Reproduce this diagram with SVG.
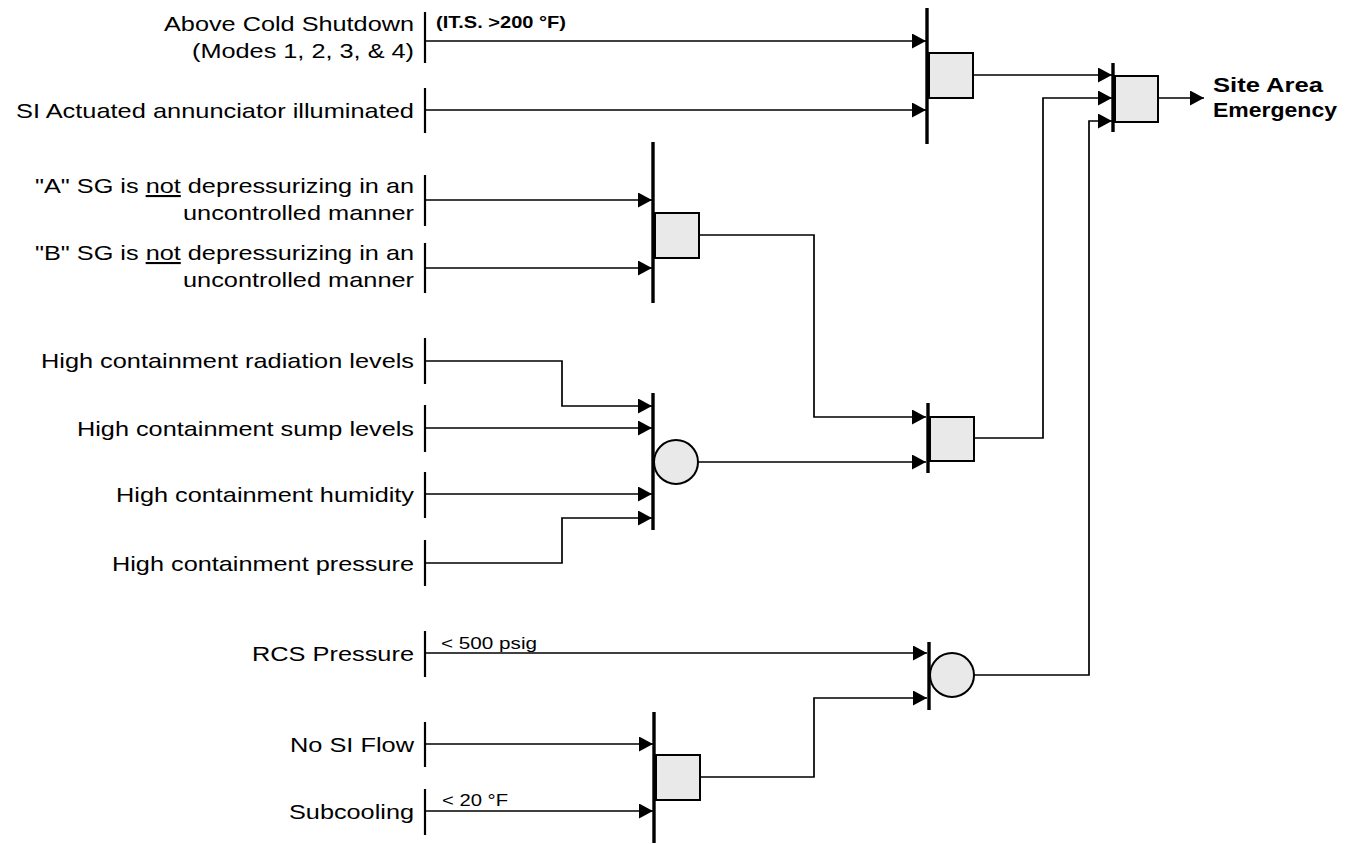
<svg xmlns="http://www.w3.org/2000/svg" width="1369" height="844" viewBox="0 0 1369 844">
<style>
.lbl{font-family:"Liberation Sans",Arial,sans-serif;font-size:21px;fill:#000;text-anchor:end}
.sm{font-family:"Liberation Sans",Arial,sans-serif;font-size:17px;fill:#000}
.smb{font-family:"Liberation Sans",Arial,sans-serif;font-size:17px;font-weight:bold;fill:#000}
.out{font-family:"Liberation Sans",Arial,sans-serif;font-size:21px;font-weight:bold;fill:#000}
.ibar{stroke:#000;stroke-width:2.2;fill:none}
.gbar{stroke:#000;stroke-width:3.4;fill:none}
.wire{stroke:#000;stroke-width:1.7;fill:none}
.arr{marker-end:url(#ah)}
.box{fill:#e9e9e9;stroke:#000;stroke-width:2}
</style>
<defs>
<marker id="ah" markerUnits="userSpaceOnUse" markerWidth="16" markerHeight="16" refX="14" refY="7.5" orient="auto">
<path d="M0,0 L14,7.5 L0,15 z" fill="#000"/>
</marker>
</defs>
<rect width="1369" height="844" fill="#fff"/>

<g id="connectors">
<path class="wire arr" d="M425,41 H926"/>
<path class="wire arr" d="M425,110 H926"/>
<path class="wire arr" d="M425,200 H652"/>
<path class="wire arr" d="M425,268 H652"/>
<path class="wire arr" d="M425,361 H562 V406 H652"/>
<path class="wire arr" d="M425,428 H652"/>
<path class="wire arr" d="M425,494 H652"/>
<path class="wire arr" d="M425,563 H562 V518 H652"/>
<path class="wire arr" d="M425,653 H927"/>
<path class="wire arr" d="M425,744 H653"/>
<path class="wire arr" d="M425,811 H653"/>
<path class="wire arr" d="M973,75 H1112"/>
<path class="wire arr" d="M699,235 H814 V417 H926"/>
<path class="wire arr" d="M698,462 H926"/>
<path class="wire arr" d="M973,438 H1043 V98 H1112"/>
<path class="wire arr" d="M700,777 H814 V698 H927"/>
<path class="wire arr" d="M974,675 H1089 V121 H1112"/>
<path class="wire arr" d="M1158,98 H1204"/>
</g>

<g id="in-above-cold">
<line class="ibar" x1="425" y1="12" x2="425" y2="63"/>
<text class="lbl" x="414" y="31" textLength="250" lengthAdjust="spacingAndGlyphs">Above Cold Shutdown</text>
<text class="lbl" x="414" y="58" textLength="222" lengthAdjust="spacingAndGlyphs">(Modes 1, 2, 3, &amp; 4)</text>
<text class="smb" x="436" y="28" textLength="130" lengthAdjust="spacingAndGlyphs">(IT.S. &gt;200 °F)</text>
</g>
<g id="in-si-actuated">
<line class="ibar" x1="425" y1="88" x2="425" y2="133"/>
<text class="lbl" x="414" y="118" textLength="398" lengthAdjust="spacingAndGlyphs">SI Actuated annunciator illuminated</text>
</g>
<g id="in-a-sg">
<line class="ibar" x1="425" y1="175" x2="425" y2="226"/>
<text class="lbl" x="414" y="193" textLength="379" lengthAdjust="spacingAndGlyphs">"A" SG is <tspan text-decoration="underline">not</tspan> depressurizing in an</text>
<text class="lbl" x="414" y="220" textLength="231" lengthAdjust="spacingAndGlyphs">uncontrolled manner</text>
</g>
<g id="in-b-sg">
<line class="ibar" x1="425" y1="243" x2="425" y2="293"/>
<text class="lbl" x="414" y="260" textLength="379" lengthAdjust="spacingAndGlyphs">"B" SG is <tspan text-decoration="underline">not</tspan> depressurizing in an</text>
<text class="lbl" x="414" y="287" textLength="231" lengthAdjust="spacingAndGlyphs">uncontrolled manner</text>
</g>
<g id="in-radiation">
<line class="ibar" x1="425" y1="338" x2="425" y2="384"/>
<text class="lbl" x="414" y="368" textLength="373" lengthAdjust="spacingAndGlyphs">High containment radiation levels</text>
</g>
<g id="in-sump">
<line class="ibar" x1="425" y1="405" x2="425" y2="452"/>
<text class="lbl" x="414" y="436" textLength="337" lengthAdjust="spacingAndGlyphs">High containment sump levels</text>
</g>
<g id="in-humidity">
<line class="ibar" x1="425" y1="472" x2="425" y2="518"/>
<text class="lbl" x="414" y="502" textLength="298" lengthAdjust="spacingAndGlyphs">High containment humidity</text>
</g>
<g id="in-pressure">
<line class="ibar" x1="425" y1="540" x2="425" y2="586"/>
<text class="lbl" x="414" y="571" textLength="302" lengthAdjust="spacingAndGlyphs">High containment pressure</text>
</g>
<g id="in-rcs">
<line class="ibar" x1="425" y1="631" x2="425" y2="677"/>
<text class="lbl" x="414" y="661" textLength="162" lengthAdjust="spacingAndGlyphs">RCS Pressure</text>
<text class="sm" x="441" y="649" textLength="96" lengthAdjust="spacingAndGlyphs">&lt; 500 psig</text>
</g>
<g id="in-no-si-flow">
<line class="ibar" x1="425" y1="722" x2="425" y2="767"/>
<text class="lbl" x="414" y="752" textLength="124" lengthAdjust="spacingAndGlyphs">No SI Flow</text>
</g>
<g id="in-subcooling">
<line class="ibar" x1="425" y1="789" x2="425" y2="835"/>
<text class="lbl" x="414" y="819" textLength="125" lengthAdjust="spacingAndGlyphs">Subcooling</text>
<text class="sm" x="442" y="806" textLength="66" lengthAdjust="spacingAndGlyphs">&lt; 20 °F</text>
</g>

<g id="gate-mode-and">
<line class="gbar" x1="927" y1="8" x2="927" y2="144"/>
<rect class="box" x="929" y="53" width="44" height="45"/>
</g>
<g id="gate-sg-and">
<line class="gbar" x1="653" y1="142" x2="653" y2="303"/>
<rect class="box" x="655" y="213" width="44" height="45"/>
</g>
<g id="gate-containment-or">
<line class="gbar" x1="653" y1="393" x2="653" y2="530"/>
<circle class="box" cx="676" cy="462" r="22"/>
</g>
<g id="gate-sg-containment-and">
<line class="gbar" x1="928" y1="403" x2="928" y2="473"/>
<rect class="box" x="930" y="417" width="44" height="44"/>
</g>
<g id="gate-rcs-or">
<line class="gbar" x1="929" y1="642" x2="929" y2="710"/>
<circle class="box" cx="952" cy="675" r="22"/>
</g>
<g id="gate-si-subcool-and">
<line class="gbar" x1="654" y1="712" x2="654" y2="843"/>
<rect class="box" x="656" y="755" width="44" height="45"/>
</g>
<g id="gate-final-and">
<line class="gbar" x1="1113" y1="63" x2="1113" y2="132"/>
<rect class="box" x="1115" y="76" width="43" height="46"/>
</g>
<g id="out-sae">
<text class="out" x="1213" y="92" textLength="110" lengthAdjust="spacingAndGlyphs">Site Area</text>
<text class="out" x="1213" y="117" textLength="124" lengthAdjust="spacingAndGlyphs">Emergency</text>
</g>
</svg>
